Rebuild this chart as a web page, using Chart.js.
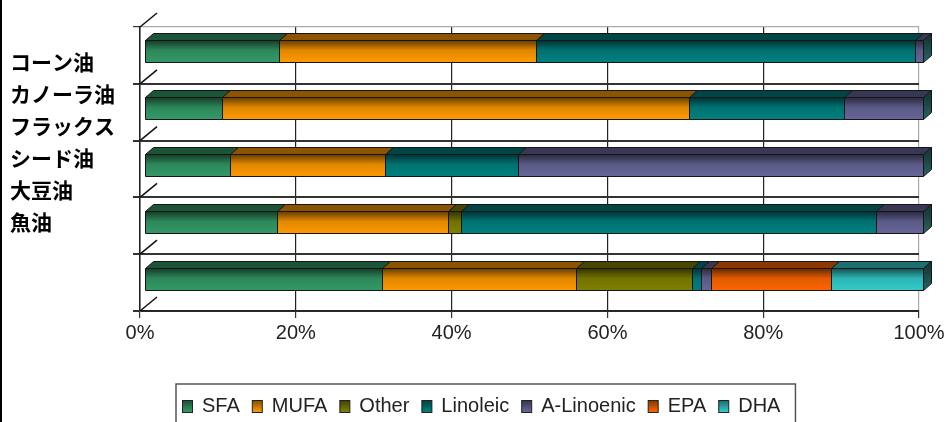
<!DOCTYPE html>
<html>
<head>
<meta charset="UTF-8">
<title>油脂の脂肪酸組成</title>
<script src="https://cdn.jsdelivr.net/npm/chart.js"></script>
<style>
  body { margin: 0; background: #fff; }
  #wrap { width: 951px; height: 422px; position: relative; }
</style>
</head>
<body>
<div id="wrap"><canvas id="fattyAcidChart" width="951" height="422"></canvas></div>
<script>
// 油の種類（フラックスシード油は2行）
const categories = ['コーン油', 'カノーラ油', ['フラックス', 'シード油'], '大豆油', '魚油'];

// 脂肪酸組成 (%)
const sfa       = [17.3, 10.0, 11.1, 17.1, 30.6];
const mufa      = [33.0, 59.9, 19.9, 21.9, 24.9];
const other     = [0,    0,    0,    1.7,  14.8];
const linoleic  = [48.7, 20.0, 17.0, 53.3, 1.2];
const aLinoenic = [1.0,  10.1, 52.0, 6.0,  1.3];
const epa       = [0,    0,    0,    0,    15.4];
const dha       = [0,    0,    0,    0,    11.8];

const seriesNames  = ['SFA', 'MUFA', 'Other', 'Linoleic', 'A-Linoenic', 'EPA', 'DHA'];
const seriesColors = ['#339966', '#ff9900', '#808000', '#008080', '#666699', '#ff6600', '#33cccc'];
const xTicks = [0, 20, 40, 60, 80, 100];

const seriesData = [sfa, mufa, other, linoleic, aLinoenic, epa, dha];

// 3D投影のずれ
const FRONT = { dx: 4, dy: -4 };
const DEPTH = { dx: 8, dy: -7 };

function shade(hex, f) {
  const n = parseInt(hex.slice(1), 16);
  const r = Math.round(((n >> 16) & 255) * f);
  const g = Math.round(((n >> 8) & 255) * f);
  const b = Math.round((n & 255) * f);
  return `rgb(${r},${g},${b})`;
}

function poly(ctx, pts, fill) {
  ctx.beginPath();
  ctx.moveTo(pts[0][0], pts[0][1]);
  for (let i = 1; i < pts.length; i++) ctx.lineTo(pts[i][0], pts[i][1]);
  ctx.closePath();
  ctx.fillStyle = fill;
  ctx.fill();
  ctx.stroke();
}

// 立体の横棒を描く
const bars3d = {
  id: 'bars3d',
  beforeDatasetsDraw(chart) {
    const ctx = chart.ctx;
    const yScale = chart.scales.y;
    const area = chart.chartArea;
    ctx.save();

    // 左壁の斜め線
    ctx.strokeStyle = '#111';
    ctx.lineWidth = 1.5;
    for (let i = 0; i <= chart.data.labels.length; i++) {
      const yy = yScale.getPixelForValue(i - 0.5);
      ctx.beginPath();
      ctx.moveTo(area.left, yy);
      ctx.lineTo(area.left + 17, yy - 14);
      ctx.stroke();
    }

    ctx.strokeStyle = '#151515';
    ctx.lineWidth = 1;
    ctx.lineJoin = 'round';
    for (let row = 0; row < chart.data.labels.length; row++) {
      let last = null;
      chart.data.datasets.forEach((ds, di) => {
        const el = chart.getDatasetMeta(di).data[row];
        const p = el.getProps(['x', 'base', 'y', 'height'], true);
        const x0 = Math.round(Math.min(p.x, p.base) + FRONT.dx) + 0.5;
        const x1 = Math.round(Math.max(p.x, p.base) + FRONT.dx) + 0.5;
        if (x1 - x0 < 0.5) return;
        const top = Math.round(p.y - p.height / 2 + FRONT.dy) + 0.5;
        const bot = Math.round(p.y + p.height / 2 + FRONT.dy) + 0.5;
        const c = seriesColors[di];

        const g = ctx.createLinearGradient(0, top, 0, bot);
        g.addColorStop(0, shade(c, 0.4));
        g.addColorStop(0.45, shade(c, 0.88));
        g.addColorStop(1, shade(c, 1));
        poly(ctx, [[x0, top], [x1, top], [x1, bot], [x0, bot]], g);

        poly(ctx, [[x0, top], [x0 + DEPTH.dx, top + DEPTH.dy],
                   [x1 + DEPTH.dx, top + DEPTH.dy], [x1, top]], shade(c, 0.55));
        last = { x1, top, bot };
      });
      if (last) {
        const sg = ctx.createLinearGradient(0, last.top, 0, last.bot);
        sg.addColorStop(0, '#163c3c');
        sg.addColorStop(1, '#2a6464');
        poly(ctx, [[last.x1, last.top], [last.x1 + DEPTH.dx, last.top + DEPTH.dy],
                   [last.x1 + DEPTH.dx, last.bot + DEPTH.dy], [last.x1, last.bot]], sg);
      }
    }
    ctx.restore();
    return false;
  },
  afterDraw(chart) {
    const ctx = chart.ctx;
    ctx.save();

    // 左端の黒線
    ctx.fillStyle = '#000';
    ctx.fillRect(0, 0, 2, chart.height);

    // 油の名前
    ctx.font = 'bold 21px "Noto Sans CJK JP", sans-serif';
    ctx.fillStyle = '#000';
    ctx.textBaseline = 'middle';
    ctx.textAlign = 'left';
    const lines = chart.data.labels.flat();
    lines.forEach((t, i) => ctx.fillText(t, 10, 62 + i * 32));

    // 凡例
    const lx = 176, ly = 384;
    ctx.font = '20px "Liberation Sans", Arial, sans-serif';
    let x = 182;
    const cy = 406;
    chart.data.datasets.forEach((ds, di) => {
      const c = seriesColors[di];
      const g = ctx.createLinearGradient(0, cy - 6, 0, cy + 6);
      g.addColorStop(0, shade(c, 0.5));
      g.addColorStop(1, c);
      ctx.fillStyle = g;
      ctx.fillRect(x + 0.5, cy - 5.5, 10, 12);
      ctx.strokeStyle = '#222';
      ctx.lineWidth = 1;
      ctx.strokeRect(x + 0.5, cy - 5.5, 10, 12);
      x += 20;
      ctx.fillStyle = '#222';
      ctx.fillText(ds.label, x, cy);
      x += ctx.measureText(ds.label).width + 12;
    });
    ctx.strokeStyle = '#555';
    ctx.lineWidth = 1.5;
    ctx.strokeRect(lx, ly, x + 3 - lx, 60);
    ctx.restore();
  }
};

const ctx = document.getElementById('fattyAcidChart').getContext('2d');
new Chart(ctx, {
  type: 'bar',
  data: {
    labels: categories,
    datasets: seriesNames.map((name, i) => ({
      label: name,
      data: seriesData[i],
      backgroundColor: seriesColors[i],
      borderWidth: 0,
      barPercentage: 0.39,
      categoryPercentage: 1
    }))
  },
  options: {
    indexAxis: 'y',
    responsive: false,
    animation: false,
    layout: { padding: { left: 0, top: 27, right: 32, bottom: 0 } },
    plugins: { legend: { display: false }, tooltip: { enabled: false } },
    scales: {
      x: {
        stacked: true,
        min: 0,
        max: 100,
        afterBuildTicks: s => { s.ticks = xTicks.map(v => ({ value: v })); },
        afterFit: s => { s.height = 111; },
        ticks: {
          callback: v => v + '%',
          color: '#222',
          padding: 3,
          maxRotation: 0,
          font: { family: '"Liberation Sans", Arial, sans-serif', size: 20 }
        },
        grid: {
          color: c => (c.tick && c.tick.value === 100 ? '#aaa' : '#222'),
          tickColor: '#333',
          tickLength: 7,
          lineWidth: 1.2
        },
        border: { color: '#222', width: 1.5 }
      },
      y: {
        stacked: true,
        afterFit: s => { s.width = 140; },
        ticks: { display: false },
        grid: {
          offset: true,
          color: c => (c.index === 0 ? '#aaa' : '#333'),
          tickColor: '#333',
          tickLength: 7,
          lineWidth: c => (c.index === 0 ? 1.2 : 2)
        },
        border: { color: '#222', width: 1.5 }
      }
    }
  },
  plugins: [bars3d]
});
</script>
</body>
</html>
